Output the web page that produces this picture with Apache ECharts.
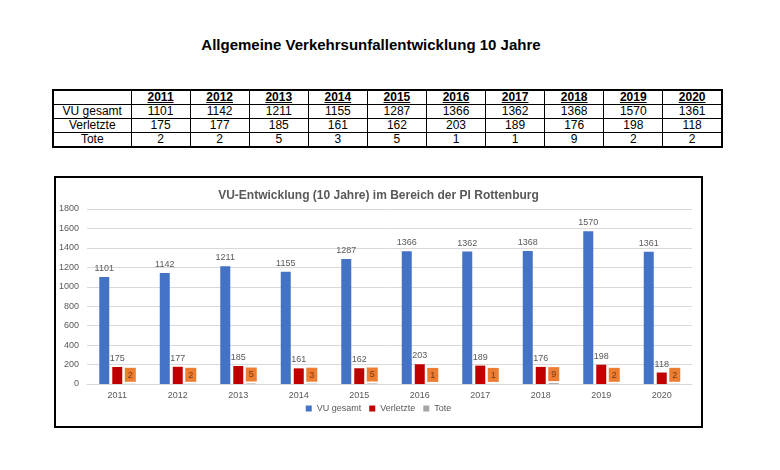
<!DOCTYPE html>
<html lang="de">
    <head>
        <meta charset="utf-8">
        <title>VU-Entwicklung</title>
        <script src="https://cdn.jsdelivr.net/npm/echarts@6/dist/echarts.min.js"></script>
        <style>
            body { margin: 0; background: #fff; font-family: "Liberation Sans", Arial, sans-serif; }
            .page { position: relative; width: 780px; height: 470px; }
            .main-title { position: absolute; left: 0; top: 36px; width: 742px; text-align: center; font-size: 15px; font-weight: bold; color: #000; }
            .data-table { position: absolute; left: 52px; top: 89px; width: 671px; border-collapse: collapse; border: 2px solid #000; font-size: 12px; color: #000; table-layout: fixed; }
            .data-table td, .data-table th { border: 1px solid #000; text-align: center; padding: 0; height: 13px; line-height: 13px; }
            .data-table th { font-weight: bold; text-decoration: underline; }
            .chart-box { position: absolute; left: 54px; top: 176px; width: 645px; height: 248px; border: 2px solid #000; }
            #chart { width: 645px; height: 248px; }
        </style>
    </head>
    <body>
        <div class="page">
            <div class="main-title">Allgemeine Verkehrsunfallentwicklung 10 Jahre</div>
            <table class="data-table" id="table"></table>
            <div class="chart-box"><div id="chart"></div></div>
        </div>
        <script>
            var years = ['2011', '2012', '2013', '2014', '2015', '2016', '2017', '2018', '2019', '2020'];
            var vuGesamt = [1101, 1142, 1211, 1155, 1287, 1366, 1362, 1368, 1570, 1361];
            var verletzte = [175, 177, 185, 161, 162, 203, 189, 176, 198, 118];
            var tote = [2, 2, 5, 3, 5, 1, 1, 9, 2, 2];
            var rowNames = ['VU gesamt', 'Verletzte', 'Tote'];

            // Tabelle aus den Arrays aufbauen
            var rows = [vuGesamt, verletzte, tote];
            var html = '<colgroup><col style="width:78px">';
            for (var i = 0; i < years.length; i++) html += '<col>';
            html += '</colgroup><tr><th style="text-decoration:none"></th>';
            years.forEach(function (y) { html += '<th>' + y + '</th>'; });
            html += '</tr>';
            rows.forEach(function (r, k) {
                html += '<tr><td>' + rowNames[k] + '</td>';
                r.forEach(function (v) { html += '<td>' + v + '</td>'; });
                html += '</tr>';
            });
            document.getElementById('table').innerHTML = html;

            var labelStyle = { show: true, position: 'top', distance: 4, fontSize: 9, color: '#595959', fontFamily: 'Liberation Sans' };
            var myChart = echarts.init(document.getElementById('chart'));
            var option = {
                animation: false,
                title: {
                    text: 'VU-Entwicklung (10 Jahre) im Bereich der PI Rottenburg',
                    left: 'center',
                    top: 7,
                    textStyle: { fontSize: 12, fontWeight: 'bold', color: '#595959', fontFamily: 'Liberation Sans' }
                },
                legend: {
                    bottom: 8,
                    left: 'center',
                    icon: 'rect',
                    itemWidth: 6,
                    itemHeight: 6,
                    itemGap: 8,
                    textStyle: { fontSize: 9, color: '#595959', fontFamily: 'Liberation Sans' },
                    data: ['VU gesamt', 'Verletzte', 'Tote']
                },
                grid: { left: 29, right: 9, top: 31, bottom: 42, containLabel: false },
                xAxis: {
                    type: 'category',
                    data: years,
                    axisTick: { show: false },
                    axisLine: { lineStyle: { color: '#d9d9d9' } },
                    axisLabel: { fontSize: 9, color: '#595959', margin: 7, fontFamily: 'Liberation Sans' }
                },
                yAxis: {
                    type: 'value',
                    min: 0,
                    max: 1800,
                    interval: 200,
                    axisLine: { show: false },
                    axisTick: { show: false },
                    axisLabel: {
                        fontSize: 9, color: '#595959', margin: 8, fontFamily: 'Liberation Sans',
                        formatter: function (v) { return String(v); }
                    },
                    splitLine: { lineStyle: { color: '#d9d9d9' } }
                },
                series: [
                    {
                        name: 'VU gesamt', type: 'bar', data: vuGesamt, barWidth: 10, barGap: '30%',
                        itemStyle: { color: '#4472C4' }, label: labelStyle
                    },
                    {
                        name: 'Verletzte', type: 'bar', data: verletzte, barWidth: 10, barGap: '30%',
                        itemStyle: { color: '#C00000' }, label: labelStyle
                    },
                    {
                        name: 'Tote', type: 'bar', data: tote, barWidth: 10, barGap: '30%',
                        itemStyle: { color: '#A5A5A5' },
                        label: {
                            show: true, position: 'top', distance: 2, fontSize: 9, color: '#7b3a12',
                            backgroundColor: '#ED7D31', padding: [3, 3, 2, 3], fontFamily: 'Liberation Sans'
                        }
                    }
                ]
            };
            myChart.setOption(option);
        </script>
    </body>
</html>
